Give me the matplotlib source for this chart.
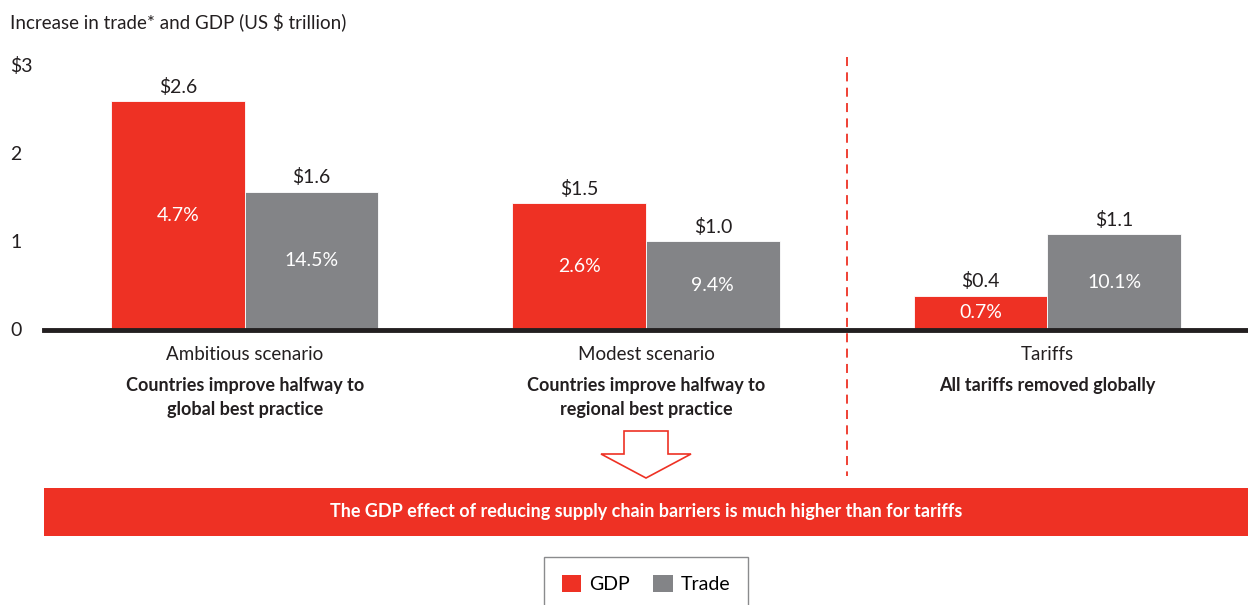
import numpy as np
import matplotlib
matplotlib.use('Agg')
import matplotlib.pyplot as plt
import matplotlib.transforms as mtransforms
from matplotlib.patches import Patch, Polygon, Rectangle

plt.rcParams['font.family'] = ['Lato', 'DejaVu Sans']

# Data
scenarios = ["Ambitious scenario", "Modest scenario", "Tariffs"]
descriptions = ["Countries improve halfway to\nglobal best practice",
                "Countries improve halfway to\nregional best practice",
                "All tariffs removed globally"]
gdp = [2.6, 1.44, 0.39]
trade = [1.57, 1.01, 1.09]
gdp_labels = ["$2.6", "$1.5", "$0.4"]
trade_labels = ["$1.6", "$1.0", "$1.1"]
gdp_pct = ["4.7%", "2.6%", "0.7%"]
trade_pct = ["14.5%", "9.4%", "10.1%"]
yticks = [0, 1, 2, 3]
ytick_labels = ["0", "1", "2", "$3"]

RED = '#EE3124'
GRAY = '#838487'
TEXT = '#231F20'

W, H = 1248, 605
fig = plt.figure(figsize=(W / 100, H / 100), dpi=100)


def fx(px):
    return px / W


def fy(px):
    return 1 - px / H


# axes: zero line at y=330px, 88px per unit, x from 44 to 1248
ymax = 3.1
ax = fig.add_axes([fx(44), fy(330), fx(1204), (ymax * 88) / H])
ax.set_xlim(-0.5, 2.5)
ax.set_ylim(0, ymax)
ax.axis('off')

x = np.arange(len(scenarios))
bw = 0.333
b1 = ax.bar(x - bw / 2, gdp, bw, color=RED, edgecolor='white', linewidth=0.6)
b2 = ax.bar(x + bw / 2, trade, bw, color=GRAY, edgecolor='white', linewidth=0.6)

for bars, vals, labs, pcts in [(b1, gdp, gdp_labels, gdp_pct),
                               (b2, trade, trade_labels, trade_pct)]:
    for bar, v, lab, p in zip(bars, vals, labs, pcts):
        cx = bar.get_x() + bar.get_width() / 2
        ax.annotate(lab, (cx, v), xytext=(0, 4), textcoords='offset points',
                    ha='center', va='bottom', fontsize=14, color=TEXT)
        ax.text(cx, v / 2, p, ha='center', va='center',
                fontsize=14, color='white')

# zero line
ax.axhline(0, color=TEXT, linewidth=3.5, clip_on=False, zorder=5)

# y tick labels
ylab_tr = mtransforms.blended_transform_factory(fig.transFigure, ax.transData)
for t, lab in zip(yticks, ytick_labels):
    ax.text(fx(10), t, lab, transform=ylab_tr, ha='left', va='center',
            fontsize=14, color=TEXT)

# dashed separator
sep_tr = mtransforms.blended_transform_factory(ax.transData, fig.transFigure)
ax.plot([1.5, 1.5], [fy(57), fy(476)], transform=sep_tr, color=RED,
        linestyle=(0, (5, 3.5)), linewidth=1.3, clip_on=False)

# category labels
for xi, s, d in zip(x, scenarios, descriptions):
    ax.text(xi, fy(354), s, transform=sep_tr, ha='center', va='center',
            fontsize=13.5, color=TEXT)
    ax.text(xi, fy(377), d, transform=sep_tr, ha='center', va='top',
            fontsize=13, fontweight='bold', color=TEXT, linespacing=1.5)

# title
fig.text(fx(10), fy(22), "Increase in trade* and GDP (US $ trillion)",
         ha='left', va='center', fontsize=13.5, color=TEXT)

# hollow arrow
arrow_px = [(624, 431), (668, 431), (668, 454), (691, 454), (646, 478),
            (601, 454), (624, 454)]
fig.patches.append(Polygon([(fx(a), fy(b)) for a, b in arrow_px], closed=True,
                           facecolor='white', edgecolor=RED, linewidth=1.2,
                           transform=fig.transFigure))

# banner
fig.patches.append(Rectangle((fx(44), fy(536)), fx(1204), (536 - 488) / H,
                             facecolor=RED, edgecolor='none',
                             transform=fig.transFigure))
fig.text(fx(646), fy(511),
         "The GDP effect of reducing supply chain barriers is much higher than for tariffs",
         ha='center', va='center', fontsize=13, fontweight='bold', color='white')

# legend
handles = [Patch(facecolor=RED, label='GDP'), Patch(facecolor=GRAY, label='Trade')]
leg = fig.legend(handles=handles, loc='center', bbox_to_anchor=(fx(646), fy(584)),
                 ncol=2, frameon=True, fancybox=False, fontsize=14,
                 handlelength=1.0, handleheight=1.0, handletextpad=0.4,
                 columnspacing=1.2, borderpad=0.9)
leg.get_frame().set_edgecolor('#6D6E71')
leg.get_frame().set_linewidth(1.0)

fig.savefig('out.png', dpi=100, facecolor='white')
